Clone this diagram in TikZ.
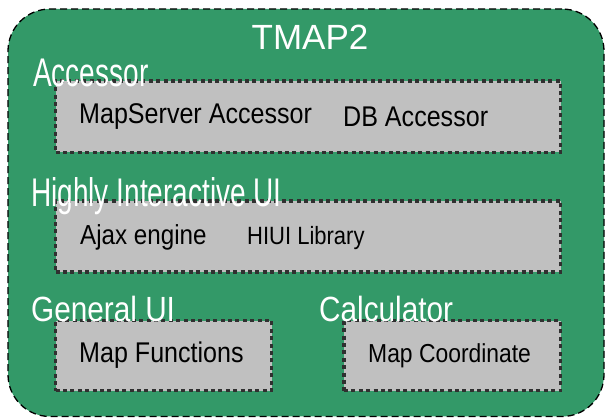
\documentclass[tikz,border=0pt]{standalone}
\usepackage{fontspec}
\setmainfont{Liberation Sans}
\newfontfamily\lblfont[FakeStretch=0.7]{Liberation Sans}
\newfontfamily\lblwidefont[FakeStretch=0.85]{Liberation Sans}
\newfontfamily\itemfont[FakeStretch=0.88]{Liberation Sans}

\definecolor{tmapgreen}{RGB}{51,153,104}
\definecolor{layergray}{RGB}{192,192,192}
\definecolor{dotgray}{RGB}{48,48,48}

\tikzstyle{outer} = [rectangle, rounded corners=42pt, fill=tmapgreen, draw=black, line width=1.3pt, dash pattern=on 7pt off 4pt]
\tikzstyle{layer} = [rectangle, fill=layergray, draw=dotgray, line width=3.6pt, dash pattern=on 4pt off 3.4pt, inner sep=0pt]
\tikzstyle{lbl} = [text=white, inner sep=0pt, anchor=base west, font=\lblfont\fontsize{40}{44}\selectfont]
\tikzstyle{item} = [text=black, inner sep=0pt, anchor=base west]

\begin{document}
\begin{tikzpicture}[x=1pt,y=-1pt]
\useasboundingbox (0,0) rectangle (606,419);

\node[outer, minimum width=596pt, minimum height=407.5pt] (tmap) at (306,212.75) {};

\node[layer, minimum width=505pt, minimum height=71.5pt] (accessor) at (308,116.75) {};
\node[layer, minimum width=505pt, minimum height=71.3pt] (hiui) at (308,236.4) {};
\node[layer, minimum width=216pt, minimum height=70pt] (generalui) at (163.6,355.7) {};
\node[layer, minimum width=216.5pt, minimum height=70pt] (calculator) at (452.3,355.7) {};

% layer titles
\node[text=white, inner sep=0pt, anchor=base, font=\fontsize{35}{40}\selectfont] (title) at (310,50) {TMAP2};
\node[lbl] (accessorLbl) at (33,87) {Accessor};
\node[lbl] (hiuiLbl) at (31,207) {Highly Interactive UI};
\node[lbl, font=\lblwidefont\fontsize{35}{40}\selectfont] (generaluiLbl) at (31,322) {General UI};
\node[lbl, font=\lblwidefont\fontsize{35}{40}\selectfont] (calculatorLbl) at (319,322) {Calculator};

% components
\node[item, font=\itemfont\fontsize{28.5}{32}\selectfont] (mapserver) at (79,124) {MapServer Accessor};
\node[item, font=\itemfont\fontsize{28.5}{32}\selectfont] (db) at (343,127) {DB Accessor};
\node[item, font=\itemfont\fontsize{27.5}{32}\selectfont] (ajax) at (80,245) {Ajax engine};
\node[item, font=\itemfont\fontsize{25}{30}\selectfont] (hiuilib) at (247,245) {HIUI Library};
\node[item, font=\itemfont\fontsize{28.5}{32}\selectfont] (mapfunc) at (79,363) {Map Functions};
\node[item, font=\itemfont\fontsize{26}{30}\selectfont] (mapcoord) at (368,363) {Map Coordinate};

\end{tikzpicture}
\end{document}
